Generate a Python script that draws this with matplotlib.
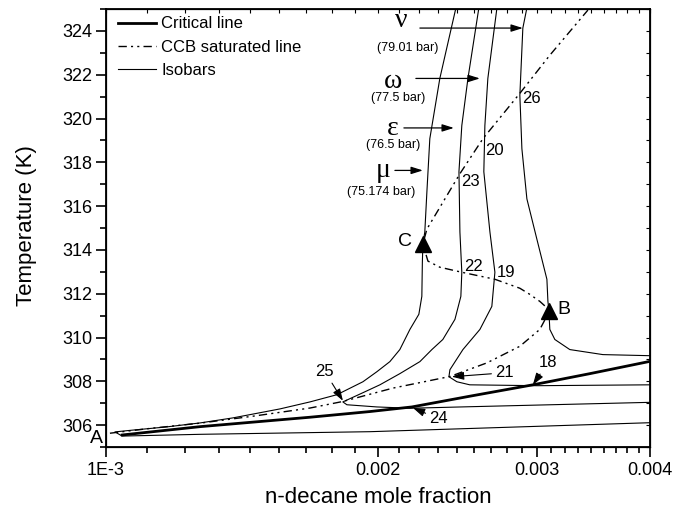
import numpy as np
import matplotlib
matplotlib.use("Agg")
import matplotlib.pyplot as plt
from matplotlib.ticker import NullFormatter

plt.rcParams["font.family"] = ["Liberation Sans", "DejaVu Sans"]

# ── Data (n-decane mole fraction, temperature in K) ───────────────────────────
crit_x = [0.001042, 0.001271, 0.001682, 0.001960, 0.002181, 0.002528,
          0.002969, 0.003433, 0.004000]
crit_T = [305.55, 305.93, 306.36, 306.62, 306.83, 307.32, 307.84, 308.35, 308.91]

ccb_x = [0.001010, 0.001119, 0.001271, 0.001462, 0.001682, 0.001829, 0.002078,
         0.002403, 0.002640, 0.002872, 0.003022, 0.003077, 0.003092, 0.003022,
         0.002946, 0.002872, 0.002695, 0.002477, 0.002342, 0.002272, 0.002243,
         0.002266, 0.002465, 0.002614, 0.002872, 0.003100, 0.003416]
ccb_T = [305.63, 305.85, 306.09, 306.42, 306.78, 307.08, 307.69, 308.22, 308.84,
         309.60, 310.37, 310.98, 311.28, 311.65, 311.97, 312.25, 312.66, 312.98,
         313.21, 313.49, 314.27, 314.95, 317.48, 319.08, 321.15, 322.89, 324.95]

# isobar mu (75.174 bar)
mu_x = [0.002440, 0.002342, 0.002283, 0.002266, 0.002254, 0.002243, 0.002240,
        0.002237, 0.002220, 0.002170, 0.002115, 0.002062, 0.001995, 0.001925,
        0.001802, 0.001682, 0.001558, 0.001382, 0.001271, 0.001168, 0.001063,
        0.001023, 0.001042, 0.001271, 0.001960, 0.004000]
mu_T = [325.05, 321.83, 319.08, 316.65, 314.82, 314.27, 313.44, 311.88, 311.06,
        310.37, 309.45, 308.90, 308.44, 307.98, 307.39, 307.06, 306.74, 306.33,
        306.10, 305.92, 305.76, 305.69, 305.50, 305.58, 305.70, 306.11]

# isobar epsilon (76.5 bar)
eps_x = [0.002587, 0.002516, 0.002477, 0.002459, 0.002465, 0.002477, 0.002471,
         0.002434, 0.002360, 0.002295, 0.002226, 0.002115, 0.002010, 0.001925,
         0.001829, 0.001848, 0.001995, 0.002170, 0.002528, 0.004000]
eps_T = [325.05, 321.83, 319.68, 317.57, 314.82, 312.98, 311.88, 310.83, 309.91,
         309.45, 308.90, 308.35, 307.84, 307.48, 307.06, 306.93, 306.83, 306.77,
         306.84, 307.04]

# isobar omega (77.5 bar)
om_x = [0.002709, 0.002647, 0.002627, 0.002620, 0.002661, 0.002695, 0.002674,
        0.002594, 0.002484, 0.002403, 0.002397, 0.002446, 0.002528, 0.002999,
        0.004000]
om_T = [325.05, 321.83, 319.68, 317.57, 314.82, 312.98, 311.42, 310.37, 309.45,
        308.53, 308.21, 307.98, 307.84, 307.80, 307.84]

# isobar nu (79.01 bar)
nu_x = [0.002924, 0.002894, 0.002872, 0.002887, 0.002924, 0.002999, 0.003077,
        0.003085, 0.003092, 0.003096, 0.003100, 0.003140, 0.003262, 0.003549,
        0.004000]
nu_T = [325.05, 324.13, 321.06, 318.62, 316.33, 314.50, 312.66, 311.65, 311.28,
        310.83, 310.37, 309.91, 309.45, 309.22, 309.17]

# points C and B
pt_x = [0.002243, 0.003092]
pt_T = [314.27, 311.23]

x_major = [0.001, 0.002, 0.003, 0.004]
x_major_labels = ["1E-3", "0.002", "0.003", "0.004"]

# ── Figure ────────────────────────────────────────────────────────────────────
fig = plt.figure(figsize=(6.84, 5.15), dpi=100)
ax = fig.add_axes([0.155, 0.132, 0.795, 0.8505])
ax.set_xscale("log")
ax.set_xlim(1e-3, 4e-3)
ax.set_ylim(305, 325)

x_minor = [a + i * 0.001 / 9 for a in (0.001, 0.002, 0.003) for i in range(1, 9)]

ax.set_xticks(x_major, x_major_labels)
ax.set_xticks(x_minor, minor=True)
ax.xaxis.set_minor_formatter(NullFormatter())
ax.set_yticks(np.arange(306, 325, 2))
ax.set_yticks(np.arange(305, 326, 1), minor=True)
ax.tick_params(axis="both", which="major", direction="out", labelsize=13,
               width=1.2, length=7)
ax.tick_params(axis="both", which="minor", direction="out", width=1.2, length=4)
ax.tick_params(axis="y", pad=3)
ax.tick_params(axis="x", pad=4)
for s in ax.spines.values():
    s.set_linewidth(1.3)

# inward ticks on top and right
axt = ax.twiny()
axt.set_xscale("log")
axt.set_xlim(1e-3, 4e-3)
axt.set_xticks(x_major, [])
axt.set_xticks(x_minor, minor=True)
axt.xaxis.set_minor_formatter(NullFormatter())
axt.tick_params(which="both", direction="in", length=3, width=0.8, labeltop=False)
axr = ax.twinx()
axr.set_ylim(305, 325)
axr.set_yticks(np.arange(306, 325, 2), [])
axr.set_yticks(np.arange(305, 326, 1), minor=True)
axr.tick_params(which="both", direction="in", length=3, width=0.8, labelright=False)

ax.set_xlabel("n-decane mole fraction", fontsize=16)
ax.set_ylabel("Temperature (K)", fontsize=16)
ax.xaxis.set_label_coords(0.5, -0.092)
ax.yaxis.set_label_coords(-0.127, 0.505)

# ── Curves ────────────────────────────────────────────────────────────────────
ax.plot(crit_x, crit_T, color="k", lw=2.0, label="Critical line")
ax.plot(ccb_x, ccb_T, color="k", lw=1.0, ls=(0, (6, 3, 1.5, 3, 1.5, 3)),
        label="CCB saturated line")
ax.plot(mu_x, mu_T, color="k", lw=0.8, label="Isobars")
ax.plot(eps_x, eps_T, color="k", lw=0.8)
ax.plot(om_x, om_T, color="k", lw=0.8)
ax.plot(nu_x, nu_T, color="k", lw=0.8)
ax.plot(pt_x, pt_T, "^", color="k", ms=12, zorder=5)

ax.legend(loc="upper left", bbox_to_anchor=(0.022, 0.983), frameon=False,
          fontsize=12, borderaxespad=0, borderpad=0, handlelength=2.3,
          handletextpad=0.3, labelspacing=0.5)

# ── Labels ────────────────────────────────────────────────────────────────────
ax.text(0.0009766, 305.40, "A", fontsize=14, ha="center", va="center")
ax.text(0.0021425, 314.40, "C", fontsize=14, ha="center", va="center")
ax.text(0.0032129, 311.28, "B", fontsize=14, ha="center", va="center")

for txt, x, y in [("22", 0.0025544, 313.26), ("19", 0.0027713, 312.98),
                  ("23", 0.0025348, 317.11), ("20", 0.0026947, 318.53),
                  ("26", 0.0029611, 320.92)]:
    ax.text(x, y, txt, fontsize=12, ha="center", va="center")

arr = dict(arrowstyle="-|>,head_length=0.6,head_width=0.2", color="k", lw=0.8,
           shrinkA=1, shrinkB=0)
for txt, tx, ty, px, py in [("25", 0.0017473, 308.44, 0.0018293, 307.11),
                            ("24", 0.0023364, 306.28, 0.0021866, 306.79),
                            ("21", 0.0027643, 308.39, 0.0024151, 308.21),
                            ("18", 0.0030845, 308.85, 0.0029688, 307.84)]:
    ax.annotate(txt, xy=(px, py), xytext=(tx, ty), fontsize=12,
                ha="center", va="center", arrowprops=arr)

greek = [("\u03bd", "(79.01 bar)", 0.0021245, 324.47, 0.0021587, 323.21,
          0.0022259, 0.0028941, 324.13),
         ("\u03c9", "(77.5 bar)", 0.0020795, 321.68, 0.0021062, 320.92,
          0.0022032, 0.0025937, 321.83),
         ("\u03b5", "(76.5 bar)", 0.0020795, 319.54, 0.0020795, 318.78,
          0.0021370, 0.0024274, 319.57),
         ("\u03bc", "(75.174 bar)", 0.0020272, 317.63, 0.0020190, 316.64,
          0.0020886, 0.0022430, 317.63)]
for g, p, gx, gy, px, py, ax0, ax1, ay in greek:
    ax.text(gx, gy, g, fontsize=20, family=["Liberation Serif", "DejaVu Serif"],
            ha="center", va="center")
    ax.text(px, py, p, fontsize=9, ha="center", va="center")
    ax.annotate("", xy=(ax1, ay), xytext=(ax0, ay),
                arrowprops=dict(arrowstyle="-|>,head_length=0.7,head_width=0.22",
                                color="k", lw=0.9, shrinkA=0, shrinkB=0))

fig.savefig("out.png", dpi=100)
